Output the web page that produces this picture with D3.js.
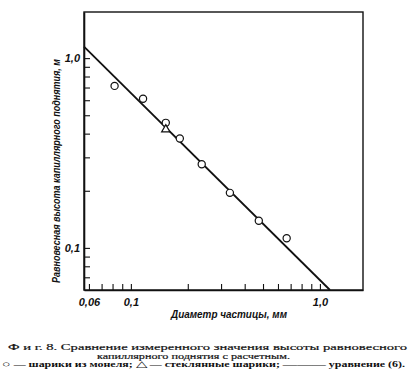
<!DOCTYPE html>
<html><head><meta charset="utf-8">
<script src="https://cdn.jsdelivr.net/npm/d3@7"></script>
<style>
html,body{margin:0;padding:0;background:#fff;}
svg{display:block;}
</style></head>
<body>
<svg id="c" width="413" height="381"></svg>
<script>
// ---- data ----
const moneDiam   = [0.082, 0.116, 0.153, 0.1815, 0.237, 0.334, 0.475, 0.667];
const moneHeight = [0.714, 0.611, 0.456, 0.377, 0.276, 0.195, 0.139, 0.1124];
const glassDiam   = [0.153];
const glassHeight = [0.421];
const eqDiam   = [0.0565, 1.13];
const eqHeight = [1.15, 0.06];
const xTickValues = [0.06,0.07,0.08,0.09,0.1,0.2,0.3,0.4,0.5,0.6,0.7,0.8,0.9,1.0];
const xTickLabels = ["0,06","","","","0,1","","","","","","","","","1,0"];
const yTickValues = [0.07,0.08,0.09,0.1,0.2,0.3,0.4,0.5,0.6,0.7,0.8,0.9,1.0];
const yTickLabels = ["","","","0,1","","","","","","","","","1,0"];
const xTitle = "Диаметр частицы, мм";
const yTitle = "Равновесная высота капиллярного поднятия, м";
const caption1 = "Ф и г.  8. Сравнение измеренного значения высоты равновесного";
const caption2 = "капиллярного поднятия с расчетным.";
const caption3Parts = [
  {t: "○", sym: true}, {t: " — шарики из монеля; "},
  {t: "△", sym: true}, {t: " — стеклянные шарики; "},
  {t: "———", sym: true}, {t: "   уравнение (6)."}
];

// ---- layout ----
const L = 84, R = 363, T = 12, B = 290;
const svg = d3.select("#c");
const x = d3.scaleLog().domain([0.0565, 1.69]).range([L, R]);
const y = d3.scaleLog().domain([0.06, 1.75]).range([B, T]);
const sansFont = "'Liberation Sans Narrow','Liberation Sans',Arial,sans-serif";

// frame
svg.append("rect").attr("x", L).attr("y", T).attr("width", R - L).attr("height", B - T)
  .attr("fill", "none").attr("stroke", "#111").attr("stroke-width", 1.4);

// axes
const xAxis = d3.axisBottom(x).tickValues(xTickValues)
  .tickSizeInner(-6).tickSizeOuter(0).tickPadding(8)
  .tickFormat((d, i) => xTickLabels[i]);
const gx = svg.append("g").attr("transform", `translate(0,${B})`).call(xAxis);
const yAxis = d3.axisLeft(y).tickValues(yTickValues)
  .tickSizeInner(-6).tickSizeOuter(0).tickPadding(4)
  .tickFormat((d, i) => yTickLabels[i]);
const gy = svg.append("g").attr("transform", `translate(${L},0)`).call(yAxis);
[gx, gy].forEach(g => {
  g.select(".domain").attr("stroke", "#111").attr("stroke-width", 1.6);
  g.selectAll(".tick line").attr("stroke", "#111").attr("stroke-width", 1.1);
  g.selectAll(".tick text").attr("fill", "#111")
    .attr("font-family", sansFont).attr("font-style", "italic")
    .attr("font-weight", "bold").attr("font-size", 11);
});

// equation line
const lineData = eqDiam.map((d, i) => [d, eqHeight[i]]);
svg.append("path").datum(lineData)
  .attr("d", d3.line().x(d => x(d[0])).y(d => y(d[1])))
  .attr("fill", "none").attr("stroke", "#111").attr("stroke-width", 1.8);

// monel spheres (circles)
svg.selectAll("circle.m").data(moneDiam.map((d, i) => [d, moneHeight[i]]))
  .enter().append("circle").attr("class", "m")
  .attr("cx", d => x(d[0])).attr("cy", d => y(d[1])).attr("r", 3.6)
  .attr("fill", "#fff").attr("stroke", "#111").attr("stroke-width", 1.2);

// glass spheres (triangles)
svg.selectAll("path.g").data(glassDiam.map((d, i) => [d, glassHeight[i]]))
  .enter().append("path").attr("class", "g")
  .attr("transform", d => `translate(${x(d[0])},${y(d[1])})`)
  .attr("d", d3.symbol().type(d3.symbolTriangle).size(30))
  .attr("fill", "#fff").attr("stroke", "#111").attr("stroke-width", 1.2);

// axis titles
svg.append("text").attr("x", 229).attr("y", 318).attr("text-anchor", "middle")
  .attr("font-family", sansFont).attr("font-style", "italic").attr("font-weight", "bold")
  .attr("font-size", 10.5).attr("fill", "#111")
  .attr("textLength", 116).attr("lengthAdjust", "spacingAndGlyphs").text(xTitle);
svg.append("text").attr("transform", "translate(60,171) rotate(-90)").attr("text-anchor", "middle")
  .attr("font-family", sansFont).attr("font-style", "italic").attr("font-weight", "bold")
  .attr("font-size", 10.5).attr("fill", "#111")
  .attr("textLength", 224).attr("lengthAdjust", "spacingAndGlyphs").text(yTitle);

// caption (vertically compressed, as in the printed figure)
const serif = "'Liberation Serif','Times New Roman',serif";
svg.append("text").attr("transform", "translate(8,350) scale(1,0.72)")
  .attr("font-family", serif).attr("font-size", 12).attr("fill", "#111")
  .attr("stroke", "#111").attr("stroke-width", 0.25)
  .attr("textLength", 399).attr("lengthAdjust", "spacingAndGlyphs").text(caption1);
svg.append("text").attr("transform", "translate(97,358.5) scale(1,0.72)")
  .attr("font-family", serif).attr("font-size", 12).attr("fill", "#111")
  .attr("stroke", "#111").attr("stroke-width", 0.25)
  .attr("textLength", 193).attr("lengthAdjust", "spacingAndGlyphs").text(caption2);
const c3 = svg.append("text").attr("transform", "translate(2,366.5) scale(1,0.72)")
  .attr("font-family", serif).attr("font-size", 10).attr("font-weight", "bold").attr("fill", "#111")
  .attr("textLength", 403).attr("lengthAdjust", "spacingAndGlyphs");
caption3Parts.forEach(p => {
  const ts = c3.append("tspan").text(p.t);
  if (p.sym) ts.attr("font-weight", "normal").attr("font-size", 12);
});
</script>
</body></html>
